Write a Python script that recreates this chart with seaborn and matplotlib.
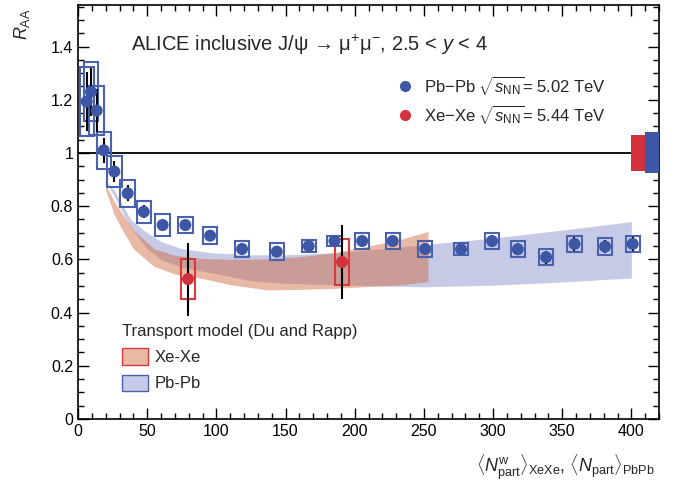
import numpy as np
import pandas as pd
import matplotlib
matplotlib.use("Agg")
import matplotlib.pyplot as plt
from matplotlib.patches import Rectangle, Patch
from matplotlib.lines import Line2D
from matplotlib.ticker import MultipleLocator, FuncFormatter
import seaborn as sns

# ---------------- data ----------------
pb_x = [6.3, 9.4, 13.5, 18.6, 26.3, 35.9, 47.5, 61.2, 77.6, 95.5, 118.6, 143.7,
        166.8, 185.4, 205.4, 227.5, 251.0, 276.9, 299.3, 317.9, 338.4, 358.9, 381.0, 401.0]
pb_y = [1.193, 1.230, 1.159, 1.010, 0.930, 0.848, 0.779, 0.729, 0.729, 0.689, 0.639, 0.629,
        0.650, 0.669, 0.669, 0.669, 0.639, 0.638, 0.669, 0.638, 0.608, 0.658, 0.648, 0.658]
pb_stat = [0.11, 0.09, 0.08, 0.047, 0.04, 0.03, 0.025, 0.018, 0.018, 0.018, 0.018, 0.018,
           0.018, 0.018, 0.02, 0.02, 0.02, 0.02, 0.022, 0.022, 0.025, 0.025, 0.025, 0.025]
pb_sys = [0.13, 0.11, 0.092, 0.069, 0.059, 0.05, 0.041, 0.041, 0.031, 0.031, 0.031, 0.031,
          0.023, 0.019, 0.031, 0.031, 0.031, 0.022, 0.031, 0.031, 0.031, 0.031, 0.031, 0.031]

xe_x = [79.5, 190.9]
xe_y = [0.526, 0.590]
xe_stat = [0.137, 0.14]
xe_sys = [0.075, 0.088]

# global normalisation uncertainties (at R_AA = 1)
glob_xe = 0.069
glob_pb = 0.077

# transport model bands
pbm_x = [19, 26, 38, 50, 60, 75, 96, 125, 150, 185, 220, 250, 300, 350, 400]
pbm_hi = [0.90, 0.86, 0.75, 0.70, 0.667, 0.64, 0.625, 0.617, 0.617, 0.625, 0.64, 0.655, 0.68, 0.71, 0.742]
pbm_lo = [0.90, 0.84, 0.72, 0.64, 0.60, 0.57, 0.55, 0.52, 0.51, 0.505, 0.50, 0.497, 0.503, 0.515, 0.53]

xem_x = [20, 26, 31, 40, 55, 70, 89, 110, 137, 160, 185, 210, 233, 253]
xem_hi = [0.88, 0.82, 0.78, 0.71, 0.64, 0.615, 0.604, 0.600, 0.602, 0.61, 0.625, 0.65, 0.675, 0.705]
xem_lo = [0.86, 0.77, 0.72, 0.64, 0.573, 0.545, 0.529, 0.505, 0.485, 0.487, 0.491, 0.498, 0.504, 0.516]

x_ticks = [0, 50, 100, 150, 200, 250, 300, 350, 400]
y_ticks = [0, 0.2, 0.4, 0.6, 0.8, 1.0, 1.2, 1.4]

# ---------------- style ----------------
sns.set_style("ticks")
FONT = ["Liberation Sans", "DejaVu Sans"]
plt.rcParams["font.family"] = FONT
plt.rcParams["mathtext.fontset"] = "custom"
plt.rcParams["mathtext.rm"] = "Liberation Sans"
plt.rcParams["mathtext.it"] = "Liberation Sans:italic"
plt.rcParams["mathtext.bf"] = "Liberation Sans:bold"

BLUE = "#3d57a6"
RED = "#d2323c"
BAND_BLUE = "#c6cae7"
BAND_SAL = (206 / 255, 100 / 255, 55 / 255, 0.45)
BOX_BLUE = "#4a62ae"
BOX_RED = "#d63a3e"

fig = plt.figure(figsize=(6.84, 4.82), dpi=100)
ax = fig.add_axes([78 / 684, 1 - 419 / 482, (659 - 78) / 684, (419 - 5) / 482])

# model bands
ax.fill_between(pbm_x, pbm_lo, pbm_hi, color=BAND_BLUE, lw=0, zorder=1)
ax.fill_between(xem_x, xem_lo, xem_hi, color=BAND_SAL, lw=0, zorder=2)

# unity line
ax.axhline(1.0, color="black", lw=1.3, zorder=3)

# systematic boxes
BOX_HW = 5.2
for x, y, s in zip(pb_x, pb_y, pb_sys):
    ax.add_patch(Rectangle((x - BOX_HW, y - s), 2 * BOX_HW, 2 * s, fill=False,
                           ec=BOX_BLUE, lw=1.5, zorder=4))
for x, y, s in zip(xe_x, xe_y, xe_sys):
    ax.add_patch(Rectangle((x - BOX_HW, y - s), 2 * BOX_HW, 2 * s, fill=False,
                           ec=BOX_RED, lw=1.5, zorder=4))

# global boxes
ax.add_patch(Rectangle((399.6, 1 - glob_xe), 10.6, 2 * glob_xe, color=RED, lw=0, zorder=5))
ax.add_patch(Rectangle((410.2, 1 - glob_pb), 9.8, 2 * glob_pb, color=BLUE, lw=0, zorder=5))

# statistical errors
ax.errorbar(pb_x, pb_y, yerr=pb_stat, fmt="none", ecolor="black", elinewidth=1.5, capsize=0, zorder=6)
ax.errorbar(xe_x, xe_y, yerr=xe_stat, fmt="none", ecolor="black", elinewidth=1.5, capsize=0, zorder=6)

# points
df_pb = pd.DataFrame({"x": pb_x, "y": pb_y})
df_xe = pd.DataFrame({"x": xe_x, "y": xe_y})
sns.scatterplot(data=df_pb, x="x", y="y", ax=ax, color=BLUE, s=75, edgecolor="none", zorder=7, legend=False)
sns.scatterplot(data=df_xe, x="x", y="y", ax=ax, color=RED, s=75, edgecolor="none", zorder=7, legend=False)

# axes
ax.set_xlim(0, 420)
ax.set_ylim(0, 1.556)
ax.set_xticks(x_ticks)
ax.set_yticks(y_ticks)
ax.xaxis.set_minor_locator(MultipleLocator(10))
ax.yaxis.set_minor_locator(MultipleLocator(0.05))
ax.yaxis.set_major_formatter(FuncFormatter(lambda v, p: "%g" % round(v, 2)))
ax.tick_params(which="both", direction="in", top=True, right=True, width=1.0, labelsize=11.5, colors="black")
ax.tick_params(which="major", length=8)
ax.tick_params(which="minor", length=4)
for sp in ax.spines.values():
    sp.set_linewidth(1.2)
    sp.set_color("black")
ax.set_xlabel("")
ax.set_ylabel("")

fig.text(22 / 684, 1 - 24 / 482, r"$R_{\rm AA}$", rotation=90, ha="center", va="center", fontsize=13)
fig.text(655 / 684, 1 - 467 / 482,
         r"$\langle N^{\rm w}_{\rm part}\rangle_{\rm XeXe}$, $\langle N_{\rm part}\rangle_{\rm PbPb}$",
         ha="right", va="center", fontsize=13)

ax.text((131 - 78) / 581, (419 - 45) / 414,
        "ALICE inclusive J/ψ → μ$^{+}$μ$^{-}$, 2.5 < $y$ < 4",
        transform=ax.transAxes, ha="left", va="center", fontsize=14.5)

# data legend
h1 = [Line2D([], [], ls="none", marker="o", ms=8, color=BLUE, mec="none"),
      Line2D([], [], ls="none", marker="o", ms=8, color=RED, mec="none")]
l1 = [r"Pb$-$Pb $\sqrt{s_{\rm NN}}$= 5.02 TeV", r"Xe$-$Xe $\sqrt{s_{\rm NN}}$= 5.44 TeV"]
leg1 = ax.legend(h1, l1, loc="upper left", bbox_to_anchor=(0.516, 0.87), frameon=False,
                 fontsize=12, handletextpad=0.4, labelspacing=0.35, handlelength=1.5)
ax.add_artist(leg1)

# model legend
h2 = [Patch(fc=BAND_SAL, ec=BOX_RED, lw=1.0), Patch(fc=BAND_BLUE, ec=BOX_BLUE, lw=1.0)]
l2 = ["Xe-Xe", "Pb-Pb"]
leg2 = ax.legend(h2, l2, loc="upper left", bbox_to_anchor=(0.055, 0.257), frameon=False,
                 fontsize=12, title="Transport model (Du and Rapp)", title_fontsize=12,
                 alignment="left", handlelength=1.6, handleheight=1.15, handletextpad=0.4,
                 labelspacing=0.55, borderpad=0.2)

fig.savefig("out.png", dpi=100)
